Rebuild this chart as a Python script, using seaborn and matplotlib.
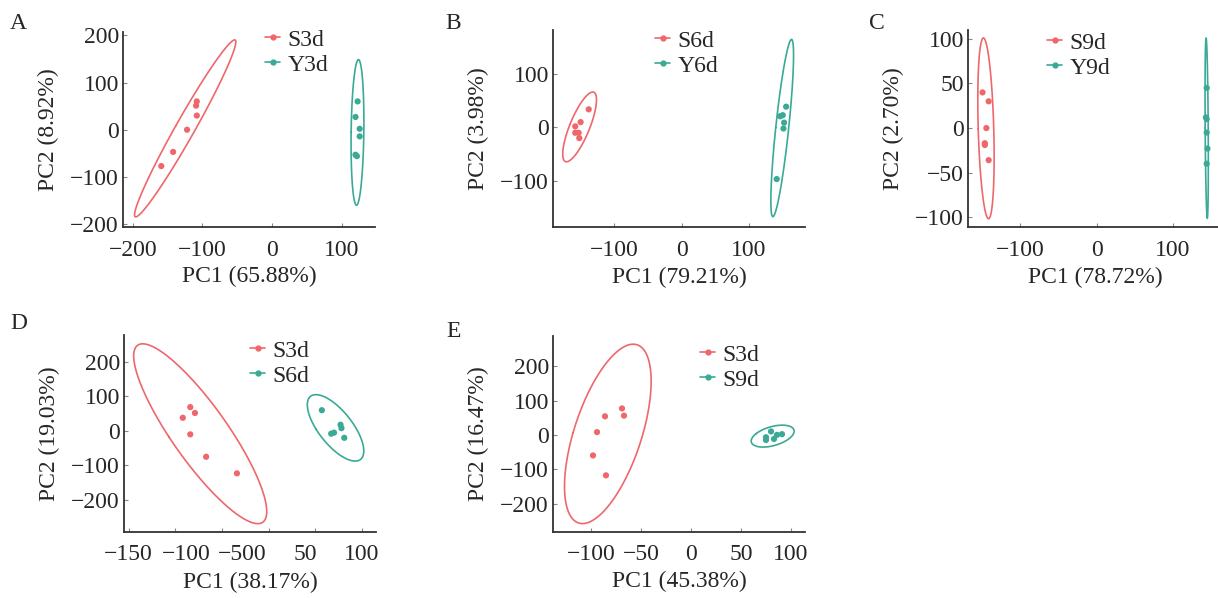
import numpy as np
import pandas as pd
import matplotlib
matplotlib.use("Agg")
import matplotlib.pyplot as plt
from matplotlib.lines import Line2D
from matplotlib.transforms import offset_copy
import seaborn as sns

# PCA scores (6 samples per group)
a_s3d_x = [-159, -142, -122, -108, -109, -108]
a_s3d_y = [-77, -47, 0, 30, 51, 60]
a_y3d_x = [123, 120, 126, 126, 120, 122]
a_y3d_y = [60, 27, 2, -14, -53, -56]

b_s6d_x = [-138, -150, -158, -158, -153, -152]
b_s6d_y = [34, 10, 2, -10, -10, -20]
b_y6d_x = [155, 146, 150, 152, 151, 141]
b_y6d_y = [39, 21, 23, 9, -2, -97]

c_s9d_x = [-149, -141, -144, -146, -146, -141]
c_s9d_y = [40, 30, 0, -17, -19, -36]
c_y9d_x = [144, 143, 144, 144, 145, 144]
c_y9d_y = [45, 12, 10, -5, -23, -40]

d_s3d_x = [-84, -79, -92, -84, -67, -34]
d_s3d_y = [69, 52, 38, -10, -75, -123]
d_s6d_x = [57, 67, 70, 77, 78, 81]
d_s6d_y = [60, -8, -5, 18, 8, -20]

e_s3d_x = [-69, -67, -86, -94, -98, -85]
e_s3d_y = [77, 56, 54, 8, -60, -118]
e_s9d_x = [80, 91, 86, 75, 75, 83]
e_s9d_y = [10, 2, 0, -7, -15, -12]

panel_letters = ["A", "B", "C", "D", "E"]
group_names = [("S3d", "Y3d"), ("S6d", "Y6d"), ("S9d", "Y9d"), ("S3d", "S6d"), ("S3d", "S9d")]
xlabels = ["PC1 (65.88%)", "PC1 (79.21%)", "PC1 (78.72%)", "PC1 (38.17%)", "PC1 (45.38%)"]
ylabels = ["PC2 (8.92%)", "PC2 (3.98%)", "PC2 (2.70%)", "PC2 (19.03%)", "PC2 (16.47%)"]
xticks = [[-200, -100, 0, 100], [-100, 0, 100], [-100, 0, 100],
          [-150, -100, -50, 0, 50, 100], [-100, -50, 0, 50, 100]]
yticks = [[-200, -100, 0, 100, 200], [-100, 0, 100], [-100, -50, 0, 50, 100],
          [-200, -100, 0, 100, 200], [-200, -100, 0, 100, 200]]
# panel D prints its x labels oddly in the source figure
d_label_pos = [-150, -88, -28, 39, 100]
d_label_txt = ["\u2212150", "\u2212100", "\u2212500", "50", "100"]

xlims = [(-214, 148), (-191, 183), (-168, 164), (-155, 115), (-138, 114)]
ylims = [(-206, 207), (-187, 183), (-111, 110), (-293, 278), (-283, 288)]

panels = [
    (a_s3d_x, a_s3d_y, a_y3d_x, a_y3d_y),
    (b_s6d_x, b_s6d_y, b_y6d_x, b_y6d_y),
    (c_s9d_x, c_s9d_y, c_y9d_x, c_y9d_y),
    (d_s3d_x, d_s3d_y, d_s6d_x, d_s6d_y),
    (e_s3d_x, e_s3d_y, e_s9d_x, e_s9d_y),
]

red = "#EF676B"
teal = "#3AAA96"
FS = 17

sns.set_style("ticks")
plt.rcParams["font.family"] = ["Liberation Serif", "DejaVu Serif"]
plt.rcParams["axes.unicode_minus"] = True

W, H = 1218, 598
fig = plt.figure(figsize=(W / 100, H / 100), dpi=100)

# axes boxes in pixels: left, right, top, bottom
boxes = [(123, 375, 32, 227), (553, 805, 30, 227), (968, 1222, 30, 227),
         (124, 376, 335, 532), (553, 805, 336, 532)]
letter_xy = [(10, 13), (445, 13), (869, 13), (10, 313), (446, 321)]
legend_xy = [(265, 29), (655, 30), (1047, 32), (250, 340), (700, 344)]


def ellipse(x, y, level=0.95, n=200):
    x = np.asarray(x, float)
    y = np.asarray(y, float)
    k = len(x)
    cov = np.cov(x, y)
    fq = (k - 1) / 2 * ((1 - level) ** (-2 / (k - 1)) - 1)
    r = np.sqrt(2 * fq)
    vals, vecs = np.linalg.eigh(cov)
    t = np.linspace(0, 2 * np.pi, n)
    circ = np.vstack([np.cos(t), np.sin(t)])
    pts = vecs @ (np.sqrt(vals)[:, None] * circ) * r
    return x.mean() + pts[0], y.mean() + pts[1]


def minus(v):
    return str(v).replace("-", "\u2212")


for i, (x1, y1, x2, y2) in enumerate(panels):
    l, r, t, b = boxes[i]
    ax = fig.add_axes([l / W, 1 - b / H, (r - l) / W, (b - t) / H])
    g1, g2 = group_names[i]
    df = pd.DataFrame({
        "PC1": list(x1) + list(x2),
        "PC2": list(y1) + list(y2),
        "group": [g1] * len(x1) + [g2] * len(x2),
    })
    sns.scatterplot(data=df, x="PC1", y="PC2", hue="group",
                    palette=[red, teal], s=20, linewidth=0, ax=ax, legend=False)
    for (gx, gy), col in [((x1, y1), red), ((x2, y2), teal)]:
        ex, ey = ellipse(gx, gy)
        ax.plot(ex, ey, color=col, lw=1.2)

    ax.set_xlim(*xlims[i])
    ax.set_ylim(*ylims[i])
    ax.set_xticks(xticks[i])
    ax.set_yticks(yticks[i])
    ax.set_yticklabels([minus(v) for v in yticks[i]])
    if i == 3:
        ax.set_xticklabels([])
        trans = offset_copy(ax.get_xaxis_transform(), fig=fig, y=-9, units="points")
        for pos, txt in zip(d_label_pos, d_label_txt):
            ax.text(pos, 0, txt, transform=trans, ha="center", va="top", fontsize=FS)
    else:
        ax.set_xticklabels([minus(v) for v in xticks[i]])

    ax.set_xlabel(xlabels[i], fontsize=FS)
    ax.set_ylabel(ylabels[i], fontsize=FS, labelpad=8)
    ax.xaxis.set_label_coords(0.5, -0.2)
    ax.tick_params(axis="both", which="major", direction="in", length=3, width=0.8,
                   color="#888888", labelsize=FS)
    ax.tick_params(axis="x", pad=9)
    ax.tick_params(axis="y", pad=3)
    for side in ["top", "right"]:
        ax.spines[side].set_visible(False)
    for side in ["left", "bottom"]:
        ax.spines[side].set_color("#333333")
        ax.spines[side].set_linewidth(1.3)

    handles = [Line2D([0], [0], color=c, lw=1.2, marker="o", markersize=3.5)
               for c in (red, teal)]
    lx, ly = legend_xy[i]
    ax.legend(handles, [g1, g2], loc="upper left",
              bbox_to_anchor=(lx / W, 1 - ly / H), bbox_transform=fig.transFigure,
              frameon=False, fontsize=FS, borderpad=0, borderaxespad=0,
              handlelength=0.65, handletextpad=0.3, labelspacing=0.15)

    fx, fy = letter_xy[i]
    fig.text(fx / W, 1 - fy / H, panel_letters[i], fontsize=FS, va="top", ha="left")

fig.savefig("out.png", dpi=100)
